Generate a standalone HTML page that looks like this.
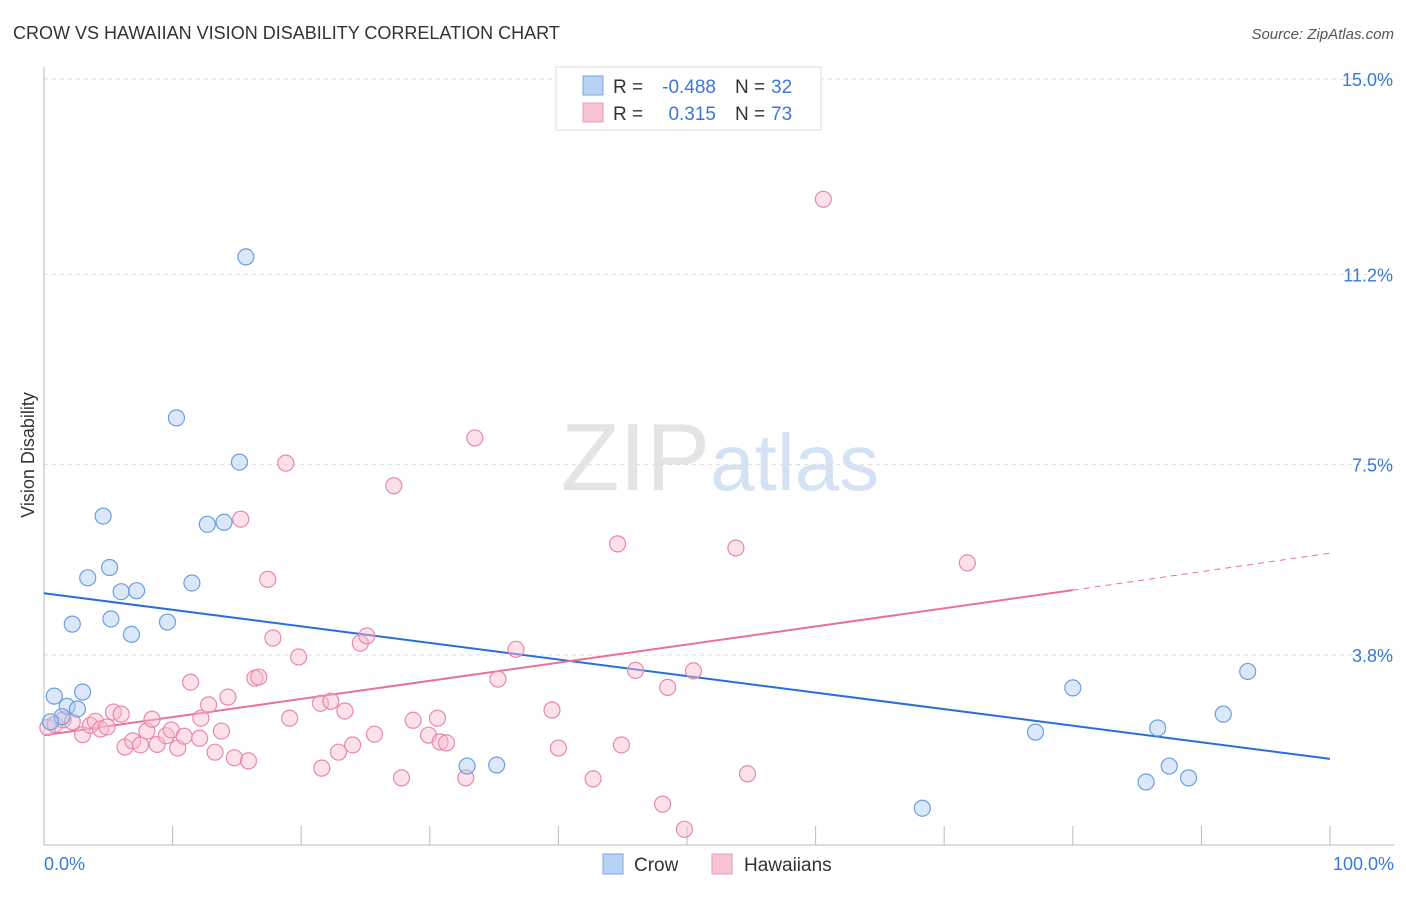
<!DOCTYPE html>
<html><head><meta charset="utf-8"><style>
body{margin:0;background:#fff;font-family:"Liberation Sans",sans-serif;}
svg text{font-family:"Liberation Sans",sans-serif;}
</style></head><body>
<svg id="chart" width="1406" height="892" xmlns="http://www.w3.org/2000/svg">
<text x="13" y="39" font-size="18" fill="#333">CROW VS HAWAIIAN VISION DISABILITY CORRELATION CHART</text>
<text x="1394" y="39" font-size="15" fill="#555" text-anchor="end" font-style="italic">Source: ZipAtlas.com</text>
<text x="720" y="490" font-size="96" text-anchor="middle" fill="#e4e4e4" font-family="Liberation Serif">ZIP<tspan fill="#d4e2f4" font-family="Liberation Sans" font-size="80">atlas</tspan></text>
<g id="grid"></g>
<g id="axes"></g>
<g id="lines"></g>
<g id="points"></g>
<text transform="translate(34,455) rotate(-90)" font-size="18" fill="#333" text-anchor="middle">Vision Disability</text>
<text x="44" y="870" font-size="18" fill="#3a78d8">0.0%</text>
<text x="1394" y="870" font-size="18" fill="#3a78d8" text-anchor="end">100.0%</text>
<g>
<rect x="556" y="67" width="265" height="63" fill="#fff" stroke="#ddd"/>
<rect x="583" y="76" width="20" height="19" fill="#b8d2f4" stroke="#7aa6e0"/>
<rect x="583" y="103" width="20" height="19" fill="#f8c4d4" stroke="#e898b4"/>
<text x="613" y="93" font-size="19" fill="#333">R =</text>
<text x="716" y="93" font-size="19" fill="#3a78d8" text-anchor="end">-0.488</text>
<text x="735" y="93" font-size="19" fill="#333">N =</text>
<text x="771" y="93" font-size="19" fill="#3a78d8">32</text>
<text x="613" y="120" font-size="19" fill="#333">R =</text>
<text x="716" y="120" font-size="19" fill="#3a78d8" text-anchor="end">0.315</text>
<text x="735" y="120" font-size="19" fill="#333">N =</text>
<text x="771" y="120" font-size="19" fill="#3a78d8">73</text>
</g>
<g><rect x="603" y="854" width="20" height="20" fill="#b8d2f4" stroke="#7aa6e0"/><text x="634" y="871" font-size="19" fill="#333">Crow</text></g>
<g><rect x="712" y="854" width="20" height="20" fill="#f8c4d4" stroke="#e898b4"/><text x="744" y="871" font-size="19" fill="#333">Hawaiians</text></g>
</svg>
<script>
const yTicks=[15.0,11.2,7.5,3.8];
const yTickLabels=["15.0%","11.2%","7.5%","3.8%"];
const xTicks=[0,10,20,30,40,50,60,70,80,90,100];
const crowX=[0.8,1.8,2.6,3.0,1.4,0.5,4.6,3.4,5.1,2.2,5.2,6.0,7.2,6.8,9.6,11.5,12.7,14.0,10.3,15.2,15.7,32.9,35.2,68.3,77.1,80.0,85.7,86.6,87.5,89.0,91.7,93.6];
const crowY=[3.0,2.8,2.75,3.08,2.6,2.5,6.5,5.3,5.5,4.4,4.5,5.03,5.05,4.2,4.44,5.2,6.34,6.38,8.41,7.55,11.54,1.64,1.66,0.82,2.3,3.16,1.33,2.38,1.64,1.41,2.65,3.48];
const hawX=[0.3,0.85,1.5,2.2,3.0,3.6,4.0,4.4,4.9,5.4,6.0,6.3,6.9,7.5,8.0,8.4,8.8,9.5,9.9,10.4,10.9,11.4,12.1,12.2,12.8,13.3,13.8,14.3,14.8,15.3,15.9,16.4,16.7,17.4,17.8,18.8,19.1,19.8,21.5,21.6,22.3,22.9,23.4,24.0,24.6,25.1,25.7,27.2,27.8,28.7,29.9,30.6,30.8,31.3,32.8,33.5,35.3,36.7,39.5,40.0,42.7,44.6,44.9,46.0,48.1,48.5,49.8,50.5,53.8,54.7,60.6,71.8];
const hawY=[2.39,2.45,2.54,2.5,2.25,2.43,2.51,2.36,2.4,2.69,2.65,2.01,2.13,2.05,2.32,2.55,2.06,2.23,2.34,1.99,2.22,3.27,2.18,2.57,2.83,1.91,2.32,2.98,1.80,6.44,1.74,3.35,3.37,5.27,4.13,7.53,2.57,3.76,2.86,1.60,2.90,1.91,2.71,2.05,4.03,4.17,2.26,7.09,1.41,2.53,2.24,2.57,2.11,2.09,1.41,8.02,3.33,3.91,2.73,1.99,1.39,5.96,2.05,3.5,0.90,3.17,0.41,3.49,5.88,1.49,12.66,5.59];
const crowTrend=[5.0,1.78];
const hawTrend=[2.24,5.06,5.78];
const X=v=>44+v*12.86, Y=v=>850.4-v*51.43;
const NS="http://www.w3.org/2000/svg";
function mk(t,a,p){const e=document.createElementNS(NS,t);for(const k in a)e.setAttribute(k,a[k]);p.appendChild(e);return e;}
const grid=document.getElementById('grid'),axes=document.getElementById('axes'),lines=document.getElementById('lines'),pts=document.getElementById('points');
yTicks.forEach((v,i)=>{
 const l=mk('line',{x1:44,x2:1394,y1:Y(v),y2:Y(v),stroke:'#ddd','stroke-dasharray':'4,4'},grid);
 
 
 const t=mk('text',{x:1393,y:Y(v)+7,'font-size':18,fill:'#3a78d8','text-anchor':'end'},grid);
 t.textContent=yTickLabels[i];
 
 
});
const ax=mk('line',{x1:44,x2:44,y1:67,y2:845,stroke:'#bbb'},axes);


const bx=mk('line',{x1:44,x2:1394,y1:845,y2:845,stroke:'#bbb'},axes);


xTicks.forEach(v=>{
 const t=mk('line',{x1:X(v),x2:X(v),y1:826,y2:845,stroke:'#bbb'},axes);
 
 
});
function dot(x,y,fill,stroke,name){
 const c=mk('circle',{cx:X(x),cy:Y(y),r:8,fill:fill,'fill-opacity':0.45,stroke:stroke,'stroke-width':1.2},pts);
 
 
}
hawX.forEach((x,i)=>dot(x,hawY[i],'#f8bcd0','#e68aac','hawaiian-point'));
crowX.forEach((x,i)=>dot(x,crowY[i],'#aecbf2','#6b9fe0','crow-point'));
const cl=mk('line',{x1:X(0),y1:Y(crowTrend[0]),x2:X(100),y2:Y(crowTrend[1]),stroke:'#2a6fd6','stroke-width':2},lines);


const hl=mk('line',{x1:X(0),y1:Y(hawTrend[0]),x2:X(80),y2:Y(hawTrend[1]),stroke:'#e8709a','stroke-width':2},lines);


const hd=mk('line',{x1:X(80),y1:Y(hawTrend[1]),x2:X(100),y2:Y(hawTrend[2]),stroke:'#e8709a','stroke-width':1,'stroke-dasharray':'6,5'},lines);


</script>
</body></html>
